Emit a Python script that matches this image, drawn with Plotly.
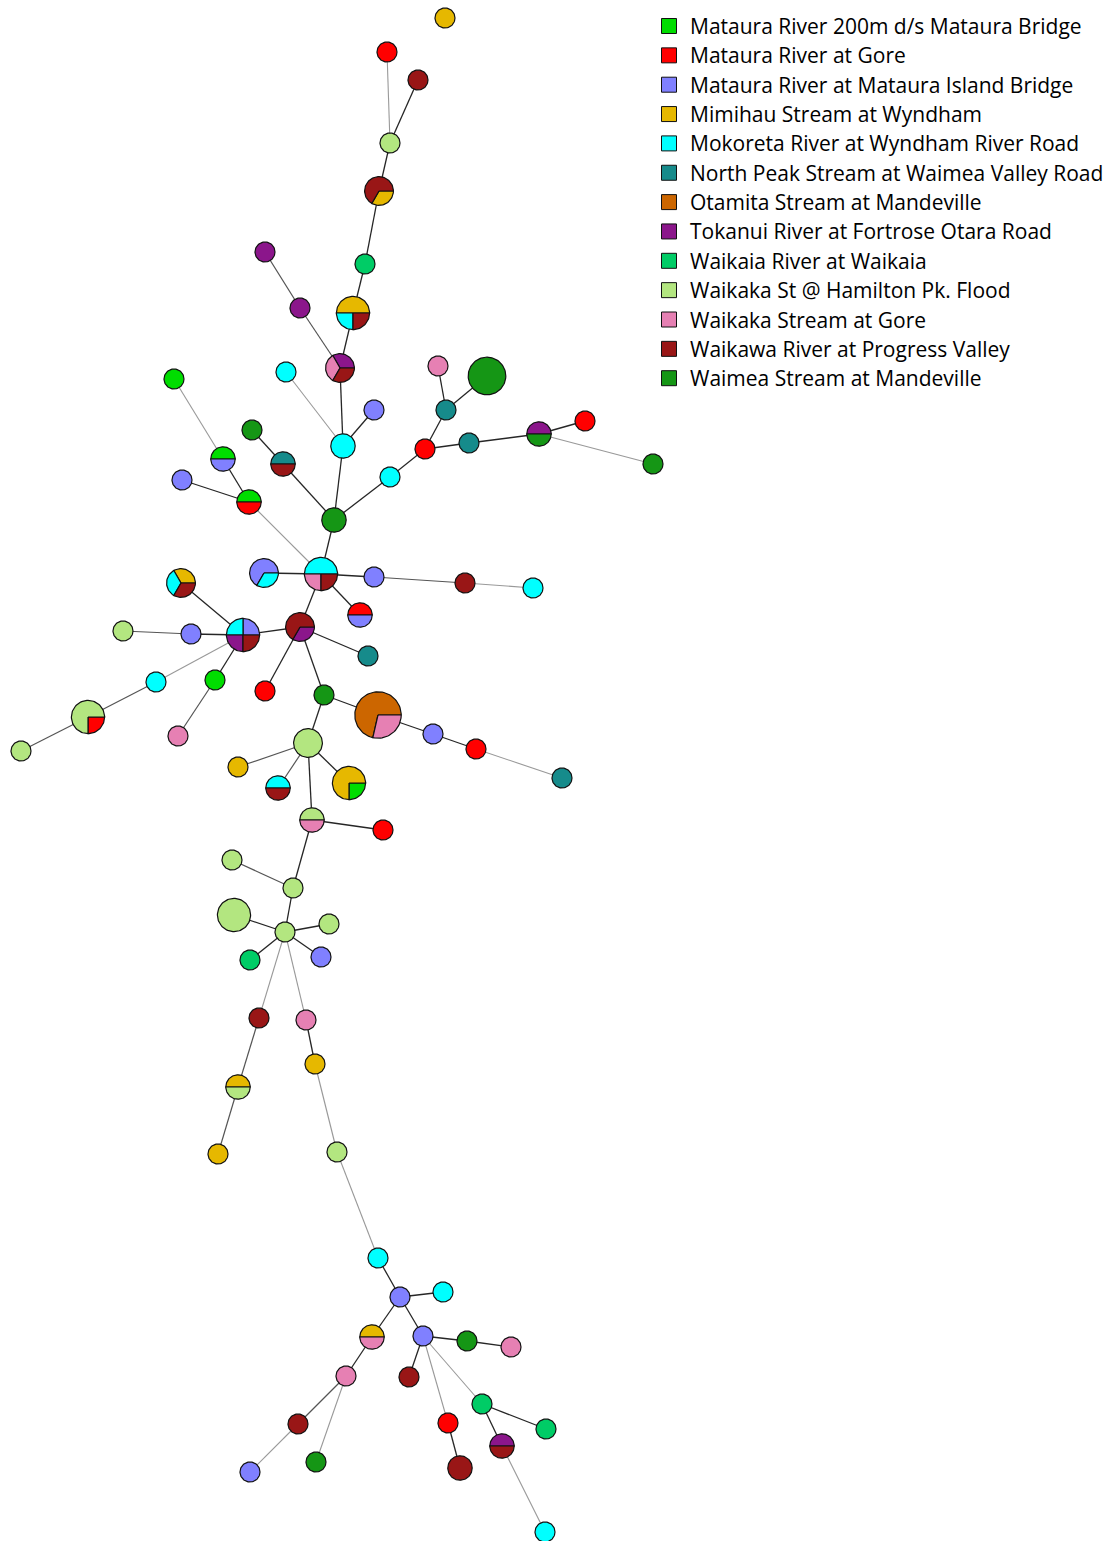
import math
import plotly.graph_objects as go

# Sampling sites (legend order) and their colours
categories = [
    "Mataura River 200m d/s Mataura Bridge",
    "Mataura River at Gore",
    "Mataura River at Mataura Island Bridge",
    "Mimihau Stream at Wyndham",
    "Mokoreta River at Wyndham River Road",
    "North Peak Stream at Waimea Valley Road",
    "Otamita Stream at Mandeville",
    "Tokanui River at Fortrose Otara Road",
    "Waikaia River at Waikaia",
    "Waikaka St @ Hamilton Pk. Flood",
    "Waikaka Stream at Gore",
    "Waikawa River at Progress Valley",
    "Waimea Stream at Mandeville",
]
site_colors = [
    "#00DD00", "#FF0000", "#8080FF", "#E6B800", "#00FFFF", "#168B8B", "#CC6600",
    "#8B168B", "#00CC66", "#B3E680", "#E680B3", "#991616", "#159615",
]

# Network layout coordinates of each genotype node
layout_x = [
    445, 387, 418, 390, 379, 365, 265, 300, 353, 340,
    286, 374, 343, 174, 223, 182, 249, 252, 283, 334,
    390, 425, 469, 446, 438, 487, 539, 585, 653, 321,
    264, 374, 465, 533, 360, 181, 243, 300, 368, 123,
    191, 156, 215, 265, 324, 178, 88, 21, 378, 433,
    476, 562, 308, 238, 278, 349, 312, 383, 293, 232,
    234, 285, 329, 250, 321, 259, 306, 238, 315, 218,
    337, 378, 400, 443, 372, 423, 467, 511, 346, 409,
    448, 482, 546, 502, 460, 298, 250, 316, 545,
]
layout_y = [
    18, 52, 80, 143, 191, 264, 252, 308, 313, 368,
    372, 410, 446, 379, 459, 480, 502, 430, 464, 520,
    477, 449, 443, 410, 366, 376, 434, 421, 464, 574,
    573, 577, 583, 588, 615, 583, 635, 627, 656, 631,
    634, 682, 680, 691, 695, 736, 717, 751, 715, 734,
    749, 778, 743, 767, 788, 783, 820, 830, 888, 860,
    915, 932, 924, 960, 957, 1018, 1020, 1087, 1064, 1154,
    1152, 1258, 1297, 1292, 1337, 1336, 1341, 1347, 1376, 1377,
    1423, 1404, 1429, 1446, 1468, 1424, 1472, 1462, 1532,
]

# Isolate counts per node: list of (site index, count), in slice order
node_counts = [
    [(3, 1)], [(1, 1)], [(11, 1)], [(9, 1)], [(11, 2), (3, 1)],
    [(8, 1)], [(7, 1)], [(7, 1)], [(3, 2), (4, 1), (11, 1)], [(7, 1), (10, 1), (11, 1)],
    [(4, 1)], [(2, 1)], [(4, 2)], [(0, 1)], [(0, 1), (2, 1)],
    [(2, 1)], [(0, 1), (1, 1)], [(12, 1)], [(5, 1), (11, 1)], [(12, 2)],
    [(4, 1)], [(1, 1)], [(5, 1)], [(5, 1)], [(10, 1)],
    [(12, 5)], [(7, 1), (12, 1)], [(1, 1)], [(12, 1)], [(4, 2), (10, 1), (11, 1)],
    [(2, 2), (4, 1)], [(2, 1)], [(11, 1)], [(4, 1)], [(1, 1), (2, 1)],
    [(3, 1), (4, 1), (11, 1)], [(2, 1), (4, 1), (7, 1), (11, 1)], [(11, 2), (7, 1)], [(5, 1)], [(9, 1)],
    [(2, 1)], [(4, 1)], [(0, 1)], [(1, 1)], [(12, 1)],
    [(10, 1)], [(9, 3), (1, 1)], [(9, 1)], [(6, 5), (10, 2)], [(2, 1)],
    [(1, 1)], [(5, 1)], [(9, 3)], [(3, 1)], [(4, 1), (11, 1)],
    [(3, 3), (0, 1)], [(9, 1), (10, 1)], [(1, 1)], [(9, 1)], [(9, 1)],
    [(9, 4)], [(9, 1)], [(9, 1)], [(8, 1)], [(2, 1)],
    [(11, 1)], [(10, 1)], [(3, 1), (9, 1)], [(3, 1)], [(3, 1)],
    [(9, 1)], [(4, 1)], [(2, 1)], [(4, 1)], [(3, 1), (10, 1)],
    [(2, 1)], [(12, 1)], [(10, 1)], [(10, 1)], [(11, 1)],
    [(1, 1)], [(8, 1)], [(8, 1)], [(7, 1), (11, 1)], [(11, 2)],
    [(11, 1)], [(2, 1)], [(12, 1)], [(4, 1)],
]

# Links of the minimum spanning tree, grouped by allelic distance
links_close = [
    (2, 3), (3, 4), (4, 5), (5, 8), (8, 9), (9, 12), (11, 12), (12, 19),
    (14, 16), (15, 16), (17, 18), (18, 19), (19, 20), (20, 21), (21, 23),
    (23, 24), (23, 25), (21, 22), (22, 26), (26, 27), (19, 29), (29, 30),
    (29, 31), (29, 34), (29, 37), (37, 36), (36, 35), (36, 40), (36, 42),
    (37, 43), (37, 38), (37, 44), (44, 48), (48, 49), (49, 50), (44, 52),
    (52, 55), (52, 56), (56, 57), (56, 58), (58, 61), (60, 61), (61, 62),
    (61, 63), (61, 64), (66, 68), (71, 72), (72, 73), (72, 74), (72, 75),
    (74, 78), (75, 76), (76, 77), (75, 79), (80, 84), (81, 82), (81, 83),
]
links_mid = [
    (6, 7), (7, 9), (40, 39), (41, 46), (46, 47), (52, 53), (52, 54),
    (58, 59), (65, 67), (67, 69), (78, 85), (31, 32), (42, 45),
]
links_far = [
    (1, 3), (10, 12), (13, 14), (16, 29), (26, 28), (32, 33), (36, 41),
    (50, 51), (61, 65), (61, 66), (68, 70), (70, 71), (85, 86), (78, 87),
    (75, 80), (75, 81), (83, 88),
]


def radius(total):
    return 10 + 2.2 * (total - 1)


fig = go.Figure()


def add_links(links, color, width):
    xs, ys = [], []
    for a, b in links:
        xs += [layout_x[a], layout_x[b], None]
        ys += [layout_y[a], layout_y[b], None]
    fig.add_trace(go.Scatter(x=xs, y=ys, mode="lines",
                             line=dict(color=color, width=width),
                             hoverinfo="skip", showlegend=False))


add_links(links_far, "#999999", 1.1)
add_links(links_mid, "#555555", 1.2)
add_links(links_close, "#262626", 1.3)

# Pie slices, collected per site so each colour is one filled trace
slice_x = {i: [] for i in range(len(categories))}
slice_y = {i: [] for i in range(len(categories))}
for cx, cy, counts in zip(layout_x, layout_y, node_counts):
    total = sum(c for _, c in counts)
    r = radius(total)
    start = 0.0
    for site, c in counts:
        span = 2 * math.pi * c / total
        n = max(8, int(96 * c / total))
        xs, ys = [], []
        if c < total:
            xs.append(cx)
            ys.append(cy)
        for k in range(n + 1):
            t = start + span * k / n
            xs.append(cx + r * math.cos(t))
            ys.append(cy - r * math.sin(t))
        xs.append(xs[0])
        ys.append(ys[0])
        slice_x[site] += xs + [None]
        slice_y[site] += ys + [None]
        start += span

for i, name in enumerate(categories):
    if not slice_x[i]:
        continue
    fig.add_trace(go.Scatter(x=slice_x[i], y=slice_y[i], mode="lines",
                             fill="toself", fillcolor=site_colors[i],
                             line=dict(color="#111111", width=1.2),
                             hoverinfo="skip", showlegend=False, name=name))

# Legend: coloured squares with site names
legend_x0 = 669
legend_y0 = 26
legend_step = 29.35
fig.add_trace(go.Scatter(
    x=[legend_x0] * len(categories),
    y=[legend_y0 + i * legend_step for i in range(len(categories))],
    mode="markers",
    marker=dict(symbol="square", size=15, color=site_colors,
                line=dict(color="#111111", width=1)),
    hoverinfo="skip", showlegend=False))
for i, name in enumerate(categories):
    fig.add_annotation(x=legend_x0 + 19, y=legend_y0 + i * legend_step,
                       text=name, showarrow=False, xanchor="left",
                       yanchor="middle", xref="x", yref="y",
                       font=dict(family="Open Sans", size=21, color="#000000"))

fig.update_layout(
    width=1111, height=1541,
    margin=dict(l=0, r=0, t=0, b=0),
    paper_bgcolor="white", plot_bgcolor="white",
    xaxis=dict(range=[0, 1111], visible=False, fixedrange=True),
    yaxis=dict(range=[1541, 0], visible=False, fixedrange=True),
    showlegend=False,
)

fig.write_html("out.html")
